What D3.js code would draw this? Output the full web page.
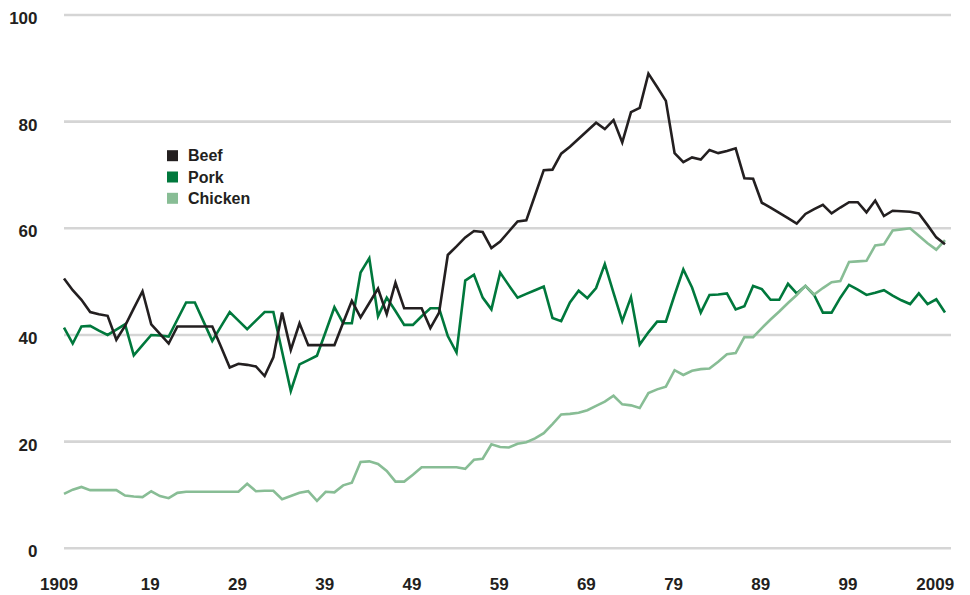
<!DOCTYPE html>
<meta charset="utf-8">
<script src="https://d3js.org/d3.v7.min.js"></script>
<style>
  body { margin: 0; background: #fff; }
  .tick-label { font-family: "Liberation Sans Narrow", "Arial Narrow", "Liberation Sans", sans-serif; font-weight: bold; font-size: 17px; fill: #231f20; }
  .legend-label { font-family: "Liberation Sans", Arial, sans-serif; font-weight: bold; font-size: 16px; fill: #231f20; }
</style>
<div id="chart"></div>
<script>

// per capita consumption, one value per year starting 1909 and ending 2010
var firstYear = 1909;

var beef = [
  50.6, 48.4, 46.6, 44.3, 43.9, 43.6, 39.1, 41.7, 45.0, 48.2,   // 1909-1918
  42.0, 40.2, 38.4, 41.6, 41.6, 41.6, 41.6, 41.6, 37.8, 33.9,   // 1919-1928
  34.6, 34.4, 34.1, 32.3, 35.8, 44.2, 37.2, 42.2, 38.1, 38.1,   // 1929-1938
  38.1, 38.1, 42.3, 46.4, 43.3, 46.0, 48.7, 43.9, 49.8, 45.0,   // 1939-1948
  45.0, 45.0, 41.3, 44.2, 55.0, 56.6, 58.3, 59.5, 59.3, 56.3,   // 1949-1958
  57.5, 59.4, 61.3, 61.5, 66.2, 70.9, 71.0, 74.0, 75.3, 76.8,   // 1959-1968
  78.3, 79.8, 78.6, 80.3, 76.1, 81.8, 82.6, 89.0, 86.5, 83.9,   // 1969-1978
  74.1, 72.4, 73.3, 72.9, 74.7, 74.1, 74.5, 75.0, 69.4, 69.3,   // 1979-1988
  64.8, 63.9, 62.9, 61.9, 60.9, 62.7, 63.6, 64.4, 62.8, 63.9,   // 1989-1998
  64.9, 64.9, 63.0, 65.2, 62.3, 63.3, 63.2, 63.1, 62.8, 60.6,   // 1999-2008
  58.3, 57.0                                                     // 2009-2010
];

var pork = [
  41.4, 38.4, 41.6, 41.7, 40.8, 40.0, 41.0, 42.0, 36.2, 38.1,
  40.0, 39.9, 39.7, 42.9, 46.1, 46.1, 42.5, 38.9, 41.6, 44.3,
  42.7, 41.1, 42.7, 44.3, 44.3, 36.9, 29.5, 34.5, 35.3, 36.1,
  40.6, 45.2, 42.2, 42.2, 51.7, 54.4, 43.5, 47.0, 44.5, 41.9,
  41.9, 43.5, 45.0, 45.0, 39.8, 36.7, 50.2, 51.3, 47.0, 44.8,
  51.7, 49.3, 47.0, 47.7, 48.4, 49.1, 43.2, 42.6, 46.1, 48.3,
  46.9, 48.8, 53.3, 47.9, 42.6, 47.1, 38.2, 40.5, 42.5, 42.5,
  47.5, 52.3, 48.9, 44.2, 47.5, 47.6, 47.8, 44.8, 45.4, 49.2,
  48.6, 46.6, 46.6, 49.6, 47.8, 49.2, 47.5, 44.2, 44.2, 47.0,
  49.4, 48.5, 47.5, 47.9, 48.4, 47.4, 46.5, 45.8, 47.8, 45.8,
  46.7, 44.2
];

var chicken = [
  10.2, 11.0, 11.5, 10.9, 10.9, 10.9, 10.9, 9.9, 9.7, 9.6,
  10.7, 9.8, 9.4, 10.4, 10.6, 10.6, 10.6, 10.6, 10.6, 10.6,
  10.6, 12.1, 10.7, 10.8, 10.8, 9.2, 9.8, 10.4, 10.7, 8.9,
  10.6, 10.5, 11.8, 12.3, 16.2, 16.3, 15.8, 14.5, 12.5, 12.5,
  13.8, 15.2, 15.2, 15.2, 15.2, 15.2, 14.9, 16.6, 16.8, 19.5,
  19.0, 18.9, 19.6, 19.9, 20.6, 21.6, 23.3, 25.1, 25.2, 25.4,
  25.9, 26.7, 27.5, 28.6, 27.0, 26.8, 26.3, 29.1, 29.8, 30.3,
  33.4, 32.5, 33.3, 33.6, 33.7, 35.0, 36.4, 36.6, 39.6, 39.6,
  41.3, 42.9, 44.4, 46.0, 47.5, 49.2, 47.6, 48.8, 49.9, 50.1,
  53.7, 53.8, 53.9, 56.8, 57.0, 59.6, 59.8, 60.0, 58.6, 57.2,
  56.0, 57.8
];

var yTicks = [0, 20, 40, 60, 80, 100];
var xTicks = [1909, 1919, 1929, 1939, 1949, 1959, 1969, 1979, 1989, 1999, 2009];
var xTickLabels = ["1909", "19", "29", "39", "49", "59", "69", "79", "89", "99", "2009"];

var seriesNames = ["Beef", "Pork", "Chicken"];
var seriesColors = ["#231f20", "#00783c", "#88bd95"];

var width = 970, height = 595;

var svg = d3.select("#chart")
  .append("svg")
    .attr("width", width)
    .attr("height", height);

var x = d3.scaleLinear()
  .domain([1909, 2010])
  .range([64, 945]);

var y = d3.scaleLinear()
  .domain([0, 100])
  .range([548.3, 15]);

// horizontal grid
svg.append("g")
  .selectAll("line")
  .data(yTicks)
  .enter()
  .append("line")
    .attr("x1", 64)
    .attr("x2", 951)
    .attr("y1", function(d) { return y(d); })
    .attr("y2", function(d) { return y(d); })
    .attr("stroke", "#d5d5d5")
    .attr("stroke-width", 2.6);

// y labels
svg.append("g")
  .selectAll("text")
  .data(yTicks)
  .enter()
  .append("text")
    .attr("class", "tick-label")
    .attr("x", 37.5)
    .attr("y", function(d) { return y(d) + 9; })
    .attr("text-anchor", "end")
    .text(function(d) { return d; });

// x labels
svg.append("g")
  .selectAll("text")
  .data(xTicks)
  .enter()
  .append("text")
    .attr("class", "tick-label")
    .attr("x", function(d, i) { return x(d) - (i === 0 ? 5 : 1); })
    .attr("y", 590)
    .attr("text-anchor", "middle")
    .text(function(d, i) { return xTickLabels[i]; });

var line = d3.line()
  .x(function(d, i) { return x(firstYear + i); })
  .y(function(d) { return y(d); });

// draw order: pork, chicken, then beef on top
var drawOrder = [1, 2, 0];
var allSeries = [beef, pork, chicken];

svg.append("g")
  .selectAll("path")
  .data(drawOrder)
  .enter()
  .append("path")
    .attr("d", function(k) { return line(allSeries[k]); })
    .attr("fill", "none")
    .attr("stroke", function(k) { return seriesColors[k]; })
    .attr("stroke-width", 2.6);

// legend
var legend = svg.append("g")
  .selectAll("g")
  .data(seriesNames)
  .enter()
  .append("g")
    .attr("transform", function(d, i) { return "translate(167," + (155.7 + i * 21.3) + ")"; });

legend.append("rect")
  .attr("x", 0)
  .attr("y", -5.5)
  .attr("width", 11)
  .attr("height", 11)
  .attr("fill", function(d, i) { return seriesColors[i]; });

legend.append("text")
  .attr("class", "legend-label")
  .attr("x", 21)
  .attr("y", 5.7)
  .text(function(d) { return d; });

</script>
